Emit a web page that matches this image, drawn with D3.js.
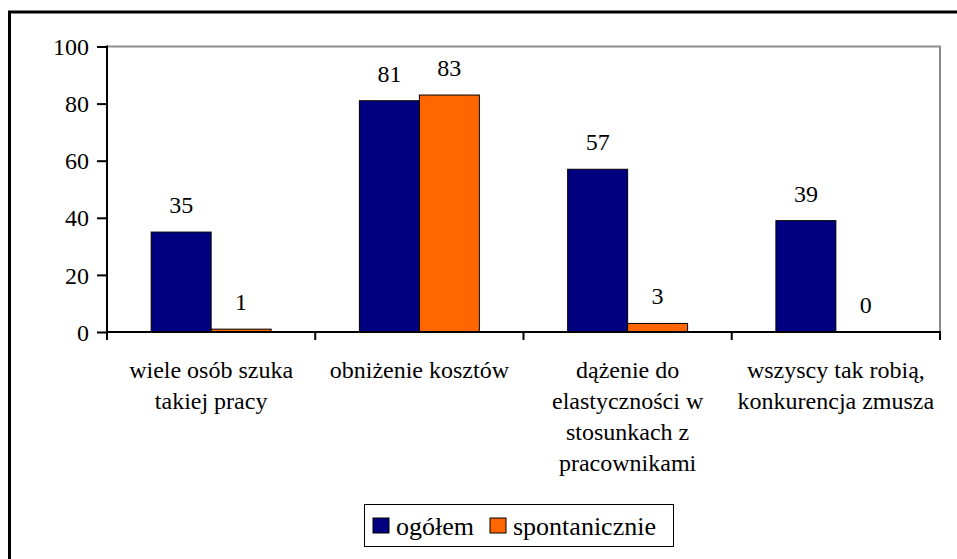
<!DOCTYPE html>
<html>
<head>
<meta charset="utf-8">
<script src="https://cdn.jsdelivr.net/npm/d3@7"></script>
<style>
  html, body { margin: 0; padding: 0; background: #fff; }
  svg { display: block; }
</style>
</head>
<body>
<svg id="chart" width="957" height="559"></svg>
<script>
// Reasons, one group of bars each
const categories = [
  ["wiele osób szuka", "takiej pracy"],
  ["obniżenie kosztów"],
  ["dążenie do", "elastyczności w", "stosunkach z", "pracownikami"],
  ["wszyscy tak robią,", "konkurencja zmusza"]
];
const seriesNames = ["ogółem", "spontanicznie"];
const seriesColors = ["#000080", "#FF6600"];
const ogolem = [35, 81, 57, 39];
const spontanicznie = [1, 83, 3, 0];
const yTicks = [0, 20, 40, 60, 80, 100];

const series = [ogolem, spontanicznie];
const serif = "'Liberation Serif', 'Times New Roman', Times, 'Noto Serif', 'Nimbus Roman', FreeSerif, 'DejaVu Serif', serif";
const svg = d3.select("#chart");

// outer frame
svg.append("rect")
  .attr("x", 9.5).attr("y", 12).attr("width", 980).attr("height", 600)
  .attr("fill", "none").attr("stroke", "#000").attr("stroke-width", 3);

const plotLeft = 107, plotRight = 940, plotTop = 46.5, plotBottom = 332;
const catKeys = categories.map((d, i) => i);

const x0 = d3.scaleBand().domain(catKeys).range([plotLeft, plotRight])
  .paddingInner(0.424).paddingOuter(0.212);
const x1 = d3.scaleBand().domain(d3.range(seriesNames.length)).range([0, x0.bandwidth()]);
const y = d3.scaleLinear().domain([0, 100]).range([plotBottom, plotTop]);

// plot-area border (top and right)
svg.append("path")
  .attr("d", `M${plotLeft},${plotTop}H${plotRight}V${plotBottom}`)
  .attr("fill", "none").attr("stroke", "#8c8c8c").attr("stroke-width", 2);

// bars
const groups = svg.append("g").selectAll("g")
  .data(catKeys).join("g")
  .attr("transform", i => `translate(${x0(i)},0)`);

groups.selectAll("rect")
  .data(i => series.map((s, k) => ({ k, v: s[i] })).filter(d => d.v > 0))
  .join("rect")
  .attr("x", d => x1(d.k))
  .attr("y", d => y(d.v))
  .attr("width", x1.bandwidth())
  .attr("height", d => y(0) - y(d.v))
  .attr("fill", d => seriesColors[d.k])
  .attr("stroke", "#000").attr("stroke-width", 1);

// value labels
groups.selectAll("text")
  .data(i => series.map((s, k) => ({ k, v: s[i] })))
  .join("text")
  .attr("x", d => x1(d.k) + x1.bandwidth() / 2)
  .attr("y", d => y(d.v) - 19)
  .attr("text-anchor", "middle")
  .attr("font-family", serif)
  .attr("font-size", 24)
  .text(d => d.v);

// y axis
const yAxis = d3.axisLeft(y).tickValues(yTicks).tickSize(10).tickPadding(8);
const gy = svg.append("g").attr("transform", `translate(${plotLeft},0)`).call(yAxis)
  .attr("font-family", serif).attr("font-size", 24);
gy.select(".domain").remove();
gy.append("line").attr("x1", 0).attr("x2", 0).attr("y1", plotTop - 1).attr("y2", plotBottom + 8)
  .attr("stroke", "#000").attr("stroke-width", 2);
gy.selectAll(".tick line").attr("stroke", "#000").attr("stroke-width", 2);
gy.selectAll(".tick text").attr("fill", "#000").attr("dy", "0.34em");

// x axis line with boundary ticks
svg.append("line").attr("x1", plotLeft).attr("x2", plotRight + 1).attr("y1", plotBottom).attr("y2", plotBottom)
  .attr("stroke", "#000").attr("stroke-width", 2);
const bounds = d3.range(categories.length + 1).map(i => plotLeft + i * x0.step());
svg.append("g").selectAll("line").data(bounds).join("line")
  .attr("x1", d => d).attr("x2", d => d)
  .attr("y1", plotBottom).attr("y2", plotBottom + 8)
  .attr("stroke", "#000").attr("stroke-width", 2);

// category labels
const catLabels = svg.append("g").selectAll("text")
  .data(catKeys).join("text")
  .attr("text-anchor", "middle")
  .attr("font-family", serif)
  .attr("font-size", 24);
catLabels.selectAll("tspan")
  .data(i => categories[i].map(line => ({ i, line })))
  .join("tspan")
  .attr("x", d => x0(d.i) + x0.bandwidth() / 2)
  .attr("y", (d, j) => 378 + j * 31)
  .text(d => d.line);

// legend
const legend = svg.append("g");
legend.append("rect")
  .attr("x", 364.5).attr("y", 504.5).attr("width", 309).attr("height", 42)
  .attr("fill", "#fff").attr("stroke", "#000").attr("stroke-width", 1);
const legendX = [373, 490];
const items = legend.selectAll("g").data(seriesNames).join("g")
  .attr("transform", (d, k) => `translate(${legendX[k]},0)`);
items.append("rect")
  .attr("x", 0).attr("y", 518).attr("width", 16).attr("height", 15)
  .attr("fill", (d, k) => seriesColors[k]).attr("stroke", "#000").attr("stroke-width", 1);
items.append("text")
  .attr("x", 23).attr("y", 535)
  .attr("font-family", serif)
  .attr("font-size", 26)
  .text(d => d);
</script>
</body>
</html>
